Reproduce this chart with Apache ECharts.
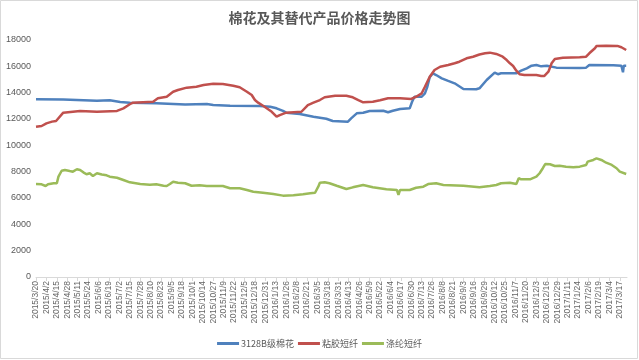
<!DOCTYPE html>
<html>
<head>
<meta charset="utf-8">
<script src="https://cdn.jsdelivr.net/npm/echarts@6/dist/echarts.min.js"></script>
<style>
html,body{margin:0;padding:0;background:#fff;}
#chart{width:639px;height:360px;}
</style>
</head>
<body>
<div id="chart"></div>
<script>
// x values: days since the first date 2015/3/20
const startDate = [2015, 3, 20];
const tickStepDays = 13;
const lastDay = 737;

const cottonDays = [0,34,76,92,105,117,150,186,213,221,242,279,292,300,308,312,329,346,362,370,389,393,400,408,416,433,439,445,454,466,469,472,481,485,488,491,495,499,506,514,522,533,549,553,562,572,576,580,599,605,612,618,624,630,637,649,678,686,690,720,730,732,733,736];
const cottonPrices = [13500,13490,13390,13420,13290,13240,13190,13110,13140,13060,13010,12990,12935,12810,12610,12480,12380,12175,12020,11850,11800,12050,12430,12480,12610,12630,12510,12630,12760,12810,13310,13690,13690,13950,14450,15170,15470,15340,15090,14890,14710,14280,14260,14330,14960,15520,15400,15470,15470,15670,15850,16050,16100,16000,16050,15900,15870,15900,16100,16080,16050,15550,16050,16050];

const viscoseDays = [0,7,13,20,25,34,36,55,76,101,109,117,121,146,152,163,171,177,179,188,200,209,221,233,246,254,263,269,273,277,285,294,300,304,312,331,339,346,354,360,373,387,395,402,408,420,429,439,454,468,474,481,485,491,497,504,514,522,528,537,545,553,560,566,574,582,587,591,595,599,603,609,624,630,634,639,643,647,657,678,686,690,697,699,711,725,730,736];
const viscosePrices = [11415,11470,11670,11800,11850,12480,12550,12610,12550,12610,12810,13120,13240,13310,13570,13690,14070,14200,14260,14380,14450,14580,14680,14660,14530,14410,14070,13820,13440,13240,12930,12550,12175,12300,12480,12550,13060,13240,13440,13650,13770,13770,13650,13440,13270,13310,13420,13570,13570,13520,13690,13950,14450,15210,15720,15970,16100,16230,16350,16610,16730,16900,16990,17040,16940,16730,16480,16230,16030,15670,15400,15340,15340,15270,15270,15590,16230,16560,16660,16690,16730,16990,17370,17550,17570,17550,17450,17240];

const polyesterDays = [0,7,12,15,22,26,28,32,36,42,46,51,55,59,63,67,71,76,82,88,92,101,109,117,130,142,150,159,163,167,171,177,186,194,204,213,233,242,254,263,271,283,296,308,321,333,342,348,352,354,360,366,375,387,395,408,420,437,450,452,454,466,474,483,489,499,508,533,553,566,574,580,591,599,602,605,616,624,628,632,635,641,647,653,661,670,678,686,688,695,699,705,711,718,724,728,736];
const polyesterPrices = [7060,7040,6910,7040,7120,7120,7620,8070,8130,8050,8000,8180,8130,7950,7800,7880,7670,7880,7780,7720,7620,7540,7370,7190,7060,7010,7040,6930,6910,7060,7240,7160,7120,6930,6960,6910,6910,6740,6740,6610,6480,6400,6300,6180,6200,6280,6360,6400,6860,7160,7190,7120,6930,6680,6810,6990,6810,6660,6610,6230,6610,6610,6780,6860,7060,7120,6990,6930,6820,6910,6990,7120,7160,7060,7500,7420,7420,7620,7880,8260,8580,8560,8430,8450,8380,8330,8380,8510,8760,8890,9010,8890,8680,8510,8260,8000,7820];

const seriesNames = ['3128B级棉花', '粘胶短纤', '涤纶短纤'];
const yTicks = [0, 2000, 4000, 6000, 8000, 10000, 12000, 14000, 16000, 18000];

function dayLabel(v) {
  const t = Date.UTC(startDate[0], startDate[1] - 1, startDate[2]) + v * 86400000;
  const d = new Date(t);
  return d.getUTCFullYear() + '/' + (d.getUTCMonth() + 1) + '/' + d.getUTCDate();
}
function zip(xs, ys) { return xs.map((x, i) => [x, ys[i]]); }

const chart = echarts.init(document.getElementById('chart'));
const cjk = '"Noto Sans CJK SC", "Noto Sans", sans-serif';
const colors = ['#4F81BD', '#C0504D', '#9BBB59'];

chart.setOption({
  animation: false,
  backgroundColor: '#ffffff',
  textStyle: { fontFamily: cjk },
  title: {
    text: '棉花及其替代产品价格走势图',
    left: 'center',
    top: 6,
    textStyle: { fontSize: 14, fontWeight: 'bold', color: '#595959', fontFamily: cjk }
  },
  legend: {
    bottom: 7,
    left: 'center',
    icon: 'rect',
    itemWidth: 22,
    itemHeight: 3,
    itemGap: 4,
    textStyle: { fontSize: 9, color: '#595959', fontFamily: cjk, padding: [0, 0, 0, -3] },
    data: seriesNames
  },
  grid: { left: 36, right: 12, top: 40, bottom: 83, containLabel: false },
  xAxis: {
    type: 'value',
    min: 0,
    max: lastDay,
    interval: tickStepDays,
    splitLine: { show: false },
    axisLine: { show: true, lineStyle: { color: '#d9d9d9', width: 1 } },
    axisTick: { show: true, length: 4, lineStyle: { color: '#d9d9d9' } },
    axisLabel: {
      rotate: 90,
      fontSize: 8.5,
      color: '#666666',
      margin: 4,
      fontFamily: '"Liberation Sans", sans-serif',
      showMaxLabel: false,
      formatter: v => (v % tickStepDays === 0 ? dayLabel(v) : '')
    }
  },
  yAxis: {
    type: 'value',
    min: yTicks[0],
    max: yTicks[yTicks.length - 1],
    interval: yTicks[1] - yTicks[0],
    splitLine: { show: false },
    axisLine: { show: false },
    axisTick: { show: false },
    axisLabel: { fontSize: 9, color: '#595959', margin: 5, fontFamily: '"Liberation Sans", sans-serif', formatter: v => String(v) }
  },
  graphic: [{
    type: 'rect',
    shape: { x: 0.5, y: 0.5, width: 637, height: 358 },
    style: { fill: 'none', stroke: '#d9d9d9', lineWidth: 1 },
    silent: true
  }],
  series: [
    { name: seriesNames[0], type: 'line', data: zip(cottonDays, cottonPrices), symbol: 'none', lineStyle: { width: 2.5, color: colors[0] }, itemStyle: { color: colors[0] } },
    { name: seriesNames[1], type: 'line', data: zip(viscoseDays, viscosePrices), symbol: 'none', lineStyle: { width: 2.5, color: colors[1] }, itemStyle: { color: colors[1] } },
    { name: seriesNames[2], type: 'line', data: zip(polyesterDays, polyesterPrices), symbol: 'none', lineStyle: { width: 2.5, color: colors[2] }, itemStyle: { color: colors[2] } }
  ]
});
</script>
</body>
</html>
